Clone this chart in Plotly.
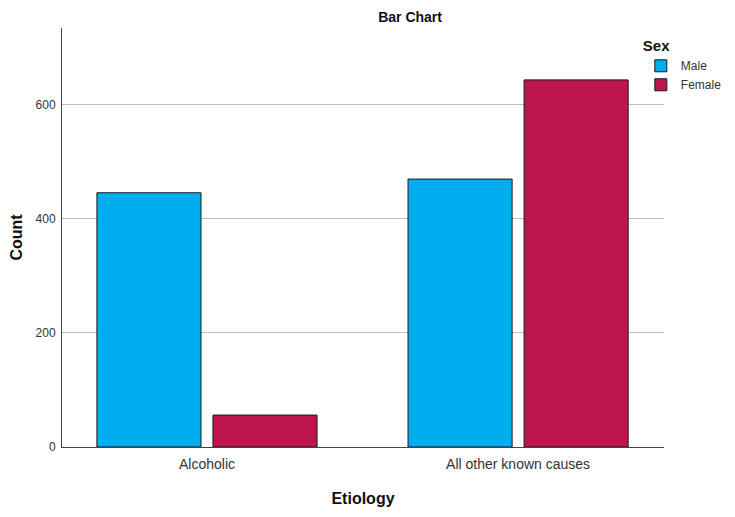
import plotly.graph_objects as go

categories = ["Alcoholic", "All other known causes"]
male = [446, 470]
female = [56, 644]
series_names = ["Male", "Female"]
y_ticks = [0, 200, 400, 600]

colors = ["#00AEEF", "#BE1550"]

fig = go.Figure()
for name, vals, c in zip(series_names, [male, female], colors):
    fig.add_trace(go.Bar(
        x=categories, y=vals, name=name,
        marker=dict(color=c, line=dict(color="#1a1a1a", width=1)),
    ))

fig.update_layout(
    width=735, height=517,
    margin=dict(l=54, r=79, t=20, b=78, autoexpand=False),
    plot_bgcolor="white", paper_bgcolor="white",
    barmode="group", bargap=0.254, bargroupgap=0.103,
    font=dict(family="Liberation Sans, Arial, sans-serif", color="#222"),
    title=dict(text="<b>Bar Chart</b>", xref="container", x=0.547, xanchor="center",
               yref="container", y=0.992, yanchor="top", pad=dict(t=0, b=0),
               font=dict(size=14, color="#111")),
    legend=dict(title=dict(text="<b>Sex</b>", font=dict(size=15, color="#111")),
                xref="container", x=0.861, xanchor="left",
                yref="container", y=0.954, yanchor="top",
                font=dict(size=12, color="#333"), tracegroupgap=0,
                itemwidth=30, bgcolor="rgba(0,0,0,0)"),
    xaxis=dict(type="category", range=[-0.466, 1.469],
               showline=True, linecolor="#444", linewidth=1,
               ticks="", ticklabelstandoff=4, tickfont=dict(size=14, color="#333"),
               title=dict(text="<b>Etiology</b>", font=dict(size=16, color="#111"), standoff=22)),
    yaxis=dict(range=[0, 735], tickvals=y_ticks,
               showline=True, linecolor="#444", linewidth=1,
               showgrid=True, gridcolor="#bdbdbd", gridwidth=1,
               zeroline=False, ticks="", ticklabelstandoff=3,
               tickfont=dict(size=12, color="#333"),
               title=dict(text="<b>Count</b>", font=dict(size=16, color="#111"), standoff=14)),
)

fig.write_html("out.html")
